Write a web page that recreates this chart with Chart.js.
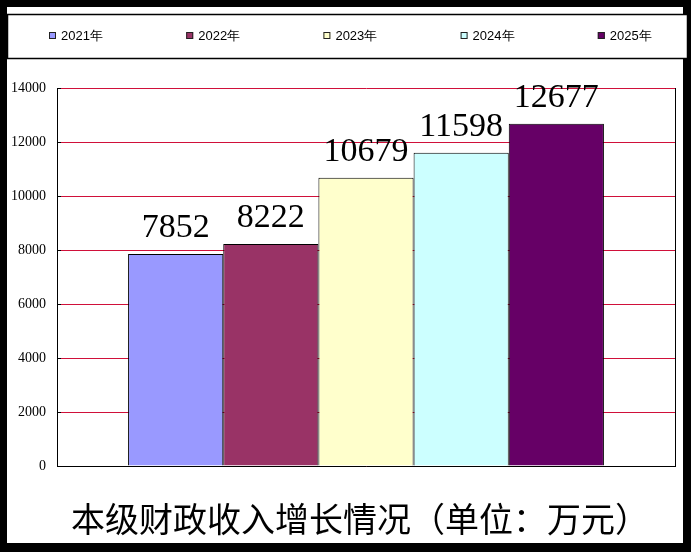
<!DOCTYPE html>
<html>
<head>
<meta charset="utf-8">
<script src="https://cdn.jsdelivr.net/npm/chart.js@4.4.1/dist/chart.umd.min.js"></script>
<style>
  html, body { margin: 0; padding: 0; background: #000; }
  #wrap { width: 691px; height: 552px; }
</style>
</head>
<body>
<div id="wrap"><canvas id="myChart" width="691" height="552"></canvas></div>
<script>
// datos del grafico
const years = ['2021年', '2022年', '2023年', '2024年', '2025年'];
const revenue = [7852, 8222, 10679, 11598, 12677];
const barColors = ['#9999ff', '#993366', '#ffffcc', '#ccffff', '#660066'];
const titleText = '本级财政收入增长情况（单位：万元）';

// marco negro, caja de leyenda y titulo
const framePlugin = {
  id: 'frame',
  beforeDraw(chart) {
    const ctx = chart.ctx;
    ctx.save();
    ctx.fillStyle = '#000';
    ctx.fillRect(0, 0, chart.width, chart.height);
    ctx.fillStyle = '#fff';
    ctx.fillRect(7, 7, 676, 536);
    // caja de la leyenda
    ctx.fillRect(7, 14, 681, 45);
    ctx.strokeStyle = '#000';
    ctx.lineWidth = 1.5;
    ctx.strokeRect(7.5, 14.5, 680, 44);
    // items de leyenda
    ctx.font = '13px "Liberation Sans", sans-serif';
    ctx.textBaseline = 'middle';
    ctx.textAlign = 'left';
    chart.data.datasets.forEach((ds, i) => {
      const x = 49 + i * 137.2;
      ctx.fillStyle = ds.backgroundColor;
      ctx.fillRect(x, 32, 7, 7);
      ctx.lineWidth = 1;
      ctx.strokeStyle = '#222';
      ctx.strokeRect(x + 0.5, 32.5, 6, 6);
      ctx.fillStyle = '#000';
      ctx.fillText(ds.label, x + 12, 36);
    });
    // titulo abajo
    ctx.font = '34px "Noto Sans CJK SC", sans-serif';
    ctx.textAlign = 'center';
    ctx.fillStyle = '#000';
    ctx.fillText(titleText, 360, 519);
    ctx.restore();
  },
  afterDraw(chart) {
    const ctx = chart.ctx;
    const a = chart.chartArea;
    const y = chart.scales.y;
    ctx.save();
    ctx.strokeStyle = '#000';
    ctx.lineWidth = 1;
    ctx.beginPath();
    ctx.moveTo(Math.round(a.right) + 0.5, a.top);
    ctx.lineTo(Math.round(a.right) + 0.5, a.bottom);
    y.ticks.forEach(t => {
      const py = Math.round(y.getPixelForValue(t.value)) + 0.5;
      ctx.moveTo(a.left, py);
      ctx.lineTo(a.left + 4, py);
    });
    ctx.stroke();
    ctx.restore();
  }
};

// etiquetas de valor encima de las barras
const valueLabels = {
  id: 'valueLabels',
  afterDatasetsDraw(chart) {
    const ctx = chart.ctx;
    ctx.save();
    ctx.font = '34px "Liberation Serif", serif';
    ctx.fillStyle = '#000';
    ctx.textAlign = 'center';
    ctx.textBaseline = 'alphabetic';
    chart.data.datasets.forEach((ds, i) => {
      const bar = chart.getDatasetMeta(i).data[0];
      ctx.fillText(String(ds.data[0]), bar.x, bar.y - 17);
    });
    ctx.restore();
  }
};

const data = {
  labels: [''],
  datasets: years.map((y, i) => ({
    label: y,
    data: [revenue[i]],
    backgroundColor: barColors[i],
    borderColor: '#000',
    borderWidth: 1,
    categoryPercentage: 0.77,
    barPercentage: 1.0,
  })),
};

const config = {
  type: 'bar',
  data: data,
  options: {
    responsive: false,
    animation: false,
    devicePixelRatio: 1,
    layout: { padding: { left: 0, right: 16, top: 88, bottom: 86 } },
    plugins: {
      legend: { display: false },
      tooltip: { enabled: false },
      title: { display: false },
    },
    scales: {
      x: {
        ticks: { display: false },
        grid: { display: false, drawTicks: false },
        border: { color: '#000', width: 1 },
      },
      y: {
        min: 0,
        max: 14000,
        ticks: {
          stepSize: 2000,
          padding: 11,
          color: '#000',
          font: { family: '"Liberation Serif", serif', size: 14 },
          callback: (v) => String(v),
        },
        grid: { color: '#d0103a', lineWidth: 1, drawTicks: false },
        border: { color: '#000', width: 1 },
        afterFit(scale) { scale.width = 57; },
      },
    },
  },
  plugins: [framePlugin, valueLabels],
};

const myChart = new Chart(document.getElementById('myChart'), config);
</script>
</body>
</html>
